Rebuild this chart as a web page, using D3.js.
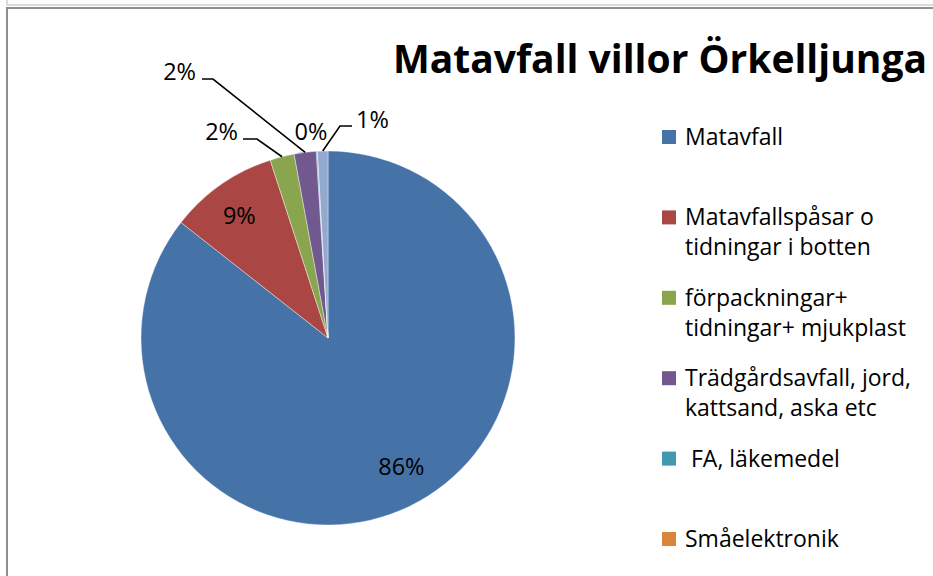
<!DOCTYPE html>
<meta charset="utf-8">
<style>
body { margin: 0; background: #fff; }
svg { display: block; font-family: "Open Sans", sans-serif; }
.legend text { font-size: 23px; fill: #000; }
.labels text { font-size: 23.5px; fill: #000; }
.leaders path { fill: none; stroke: #000; stroke-width: 1.6; }
</style>
<svg width="933" height="576"></svg>
<script src="https://d3js.org/d3.v7.min.js"></script>
<script>

// data
var categories = ["Matavfall", "Matavfallspåsar o tidningar i botten", "förpackningar+ tidningar+ mjukplast",
                  "Trädgårdsavfall, jord, kattsand, aska etc", " FA, läkemedel", "Småelektronik", "Övrigt"];
var legendLines = [["Matavfall"], ["Matavfallspåsar o", "tidningar i botten"], ["förpackningar+", "tidningar+ mjukplast"],
                   ["Trädgårdsavfall, jord,", "kattsand, aska etc"], [" FA, läkemedel"], ["Småelektronik"], ["Övrigt"]];
var values = [85.6, 9.4, 2.1, 1.9, 0.1, 0, 0.9];
var colors = ["#4572A7", "#AA4643", "#89A54E", "#71588F", "#4198AF", "#DB843D", "#93A9CF"];
var title = "Matavfall villor Örkelljunga";

// label placement for the small slices (offsets from pie centre)
var callouts = {
  2: {elbow: [-71, -199], end: [-85, -199], text: [-90, -198]},
  3: {elbow: [-115, -259], end: [-126, -259], text: [-132, -258]},
  4: {text: [-17, -198], anchor: "middle"},
  6: {elbow: [12, -212], end: [24, -212], text: [28, -210], anchor: "start"}
};

var svg = d3.select("svg"),
    width = +svg.attr("width"),
    height = +svg.attr("height"),
    cx = 328, cy = 338, r = 187;

// frame
svg.append("rect").attr("x", 7).attr("y", -20).attr("width", 1000).attr("height", 25)
    .attr("fill", "none").attr("stroke", "#cfcfcf").attr("stroke-width", 1.5);
svg.append("rect").attr("x", 7).attr("y", 8).attr("width", 1000).attr("height", 700)
    .attr("fill", "none").attr("stroke", "#8e8e8e").attr("stroke-width", 2);

svg.append("text")
    .attr("x", 393).attr("y", 73)
    .style("font-size", "39px").style("font-weight", "bold")
    .text(title);

var total = d3.sum(values);
var pie = d3.pie().sort(null).value(function(d) { return d; });
var arcs = pie(values);
var arc = d3.arc().innerRadius(0).outerRadius(r);
var rim = d3.arc().innerRadius(r).outerRadius(r);
var inner = d3.arc().innerRadius(r * 0.8).outerRadius(r * 0.8);

var g = svg.append("g").attr("transform", "translate(" + cx + "," + cy + ")");

g.append("g").selectAll("path")
    .data(arcs)
  .enter().append("path")
    .attr("d", arc)
    .attr("fill", function(d, i) { return colors[i]; })
    .attr("stroke", "#fff")
    .attr("stroke-width", 0.4);

var pct = function(v) { return Math.round(v / total * 100) + "%"; };

// leader lines
g.append("g").attr("class", "leaders").selectAll("path")
    .data(arcs.filter(function(d, i) { return callouts[i] && callouts[i].elbow; }))
  .enter().append("path")
    .attr("d", function(d) {
      var c = callouts[d.index], a = rim.centroid(d);
      return "M" + a + "L" + c.elbow + "L" + c.end;
    });

var labels = g.append("g").attr("class", "labels");
labels.selectAll("text")
    .data(arcs.filter(function(d) { return d.value > 0; }))
  .enter().append("text")
    .attr("text-anchor", function(d) { return callouts[d.index] ? (callouts[d.index].anchor || "end") : "middle"; })
    .attr("x", function(d) { return callouts[d.index] ? callouts[d.index].text[0] : inner.centroid(d)[0] + (d.index === 0 ? 8 : -3); })
    .attr("y", function(d) { return callouts[d.index] ? callouts[d.index].text[1] : inner.centroid(d)[1] + (d.index === 0 ? -6 : 0); })
    .attr("dy", function(d) { return callouts[d.index] ? 0 : "0.35em"; })
    .text(function(d) { return pct(d.value); });

// legend (the last entry falls below the visible area, as in the original)
var step = 80.4;
var shown = categories.filter(function(d, i) { return 145 + i * step < height; });
var legend = svg.append("g").attr("class", "legend")
  .selectAll("g")
    .data(shown)
  .enter().append("g")
    .attr("transform", function(d, i) { return "translate(662," + (145 + i * step) + ")"; });

legend.append("rect")
    .attr("y", -15).attr("width", 14).attr("height", 14)
    .attr("fill", function(d, i) { return colors[i]; });

legend.append("text")
    .attr("x", 23)
  .selectAll("tspan")
    .data(function(d, i) { return legendLines[i]; })
  .enter().append("tspan")
    .attr("x", 23)
    .attr("dy", function(d, j) { return j ? 30 : 0; })
    .style("white-space", "pre")
    .text(function(d) { return d; });

</script>
